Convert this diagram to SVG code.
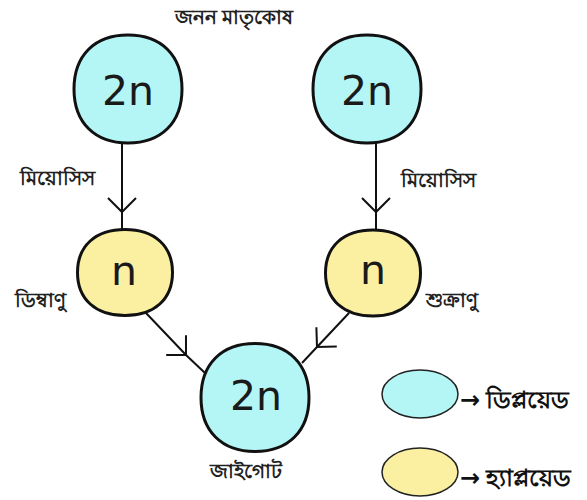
<svg xmlns="http://www.w3.org/2000/svg" xmlns:xlink="http://www.w3.org/1999/xlink" width="587" height="500" viewBox="0 0 587 500">
<style>
.dip{fill:#b4f6f6;stroke:#111;stroke-width:3}
.hap{fill:#fbf0a2;stroke:#111;stroke-width:3}
.leg{stroke:#222;stroke-width:1.5}
.num{font-family:"DejaVu Sans",sans-serif;font-size:41px;fill:#1a1a1a;text-anchor:middle}
.lbl{font-family:"Noto Sans","DejaVu Sans","Liberation Sans",sans-serif;font-size:20px;font-weight:600;fill:#222;text-anchor:middle}
.lgt{font-family:"Noto Sans","DejaVu Sans","Liberation Sans",sans-serif;font-size:24px;font-weight:600;fill:#111}
.con{fill:none;stroke:#111;stroke-width:2;marker-mid:url(#vee)}
</style>
<defs>
<marker id="vee" markerUnits="userSpaceOnUse" markerWidth="30" markerHeight="30" viewBox="-20 -15 25 30" refX="0" refY="0" orient="auto">
<path d="M-14,-14 L0,0 L-14,14" fill="none" stroke="#111" stroke-width="2"/>
</marker>
<path id="big" d="M0,-54 C33.5,-54 54,-33.5 54,0 C54,33.5 33.5,54 0,54 C-33.5,54 -54,33.5 -54,0 C-54,-33.5 -33.5,-54 0,-54Z"/>
<path id="small" d="M0,-43 C29.5,-43 47.5,-26.7 47.5,0 C47.5,26.7 29.5,43 0,43 C-29.5,43 -47.5,26.7 -47.5,0 C-47.5,-26.7 -29.5,-43 0,-43Z"/>
</defs>
<rect width="587" height="500" fill="#fff"/>
<text class="lbl" x="234" y="24">জনন মাতৃকোষ</text>
<g id="connectors">
<path class="con" d="M122,143 L122,212 L122,230"/>
<path class="con" d="M376,143 L376,212 L376,230"/>
<path class="con" d="M146,313 L186,355 L205,373"/>
<path class="con" d="M349,313 L317,347 L302,363"/>
</g>
<g id="mother-left">
<use xlink:href="#big" class="dip" transform="translate(128,89)"/>
<text class="num" x="128" y="105">2n</text>
</g>
<g id="mother-right">
<use xlink:href="#big" class="dip" transform="translate(367,89)"/>
<text class="num" x="367" y="105">2n</text>
</g>
<text class="lbl" x="57" y="185">মিয়োসিস</text>
<text class="lbl" x="438" y="187">মিয়োসিস</text>
<g id="ovum">
<use xlink:href="#small" class="hap" transform="translate(125,272.5)"/>
<text class="num" x="124" y="285">n</text>
<text class="lbl" x="40" y="307">ডিম্বাণু</text>
</g>
<g id="sperm">
<use xlink:href="#small" class="hap" transform="translate(373,273)"/>
<text class="num" x="373" y="284">n</text>
<text class="lbl" x="452" y="307">শুক্রাণু</text>
</g>
<g id="zygote">
<use xlink:href="#big" class="dip" transform="translate(255,397.5)"/>
<text class="num" x="256" y="410">2n</text>
<text class="lbl" x="246" y="478">জাইগোট</text>
</g>
<g id="legend-diploid">
<ellipse class="dip leg" cx="420" cy="394" rx="38" ry="24"/>
<text class="lgt" x="460" y="408">→ ডিপ্লয়েড</text>
</g>
<g id="legend-haploid">
<ellipse class="hap leg" cx="420" cy="472" rx="38" ry="24"/>
<text class="lgt" x="460" y="486">→ হ্যাপ্লয়েড</text>
</g>
</svg>
